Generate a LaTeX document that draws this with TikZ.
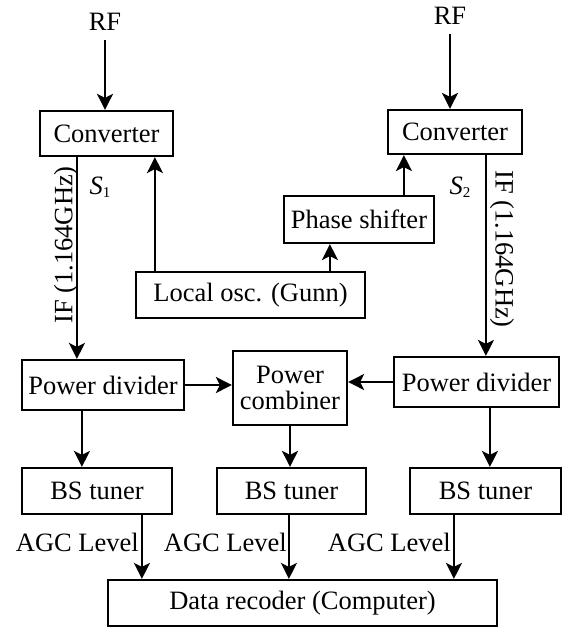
\documentclass[tikz,border=0pt]{standalone}
\usepackage{fontspec}
\setmainfont{Liberation Serif}
\usetikzlibrary{arrows.meta}
\begin{document}
\begin{tikzpicture}[x=1pt,y=-1pt,
  every node/.style={font=\fontsize{26.5}{29}\selectfont},
  box/.style={draw,line width=2.2pt,inner sep=0pt,align=center},
  arr/.style={line width=2.2pt,-{Stealth[length=16pt,width=16pt,inset=4pt]}},
  lbl/.style={inner sep=0pt}]
\useasboundingbox (0,0) rectangle (570,628);
% boxes
\node[box,minimum width=133pt,minimum height=45pt] (conv1) at (106.5,133.5) {Converter};
\node[box,minimum width=134pt,minimum height=44pt] (conv2) at (455,132) {Converter};
\node[box,minimum width=150pt,minimum height=47pt] (phase) at (359,219.5) {Phase shifter};
\node[box,minimum width=229pt,minimum height=46pt] (osc) at (250.5,295) {Local osc. (Gunn)};
\node[box,minimum width=162pt,minimum height=50pt] (pd1) at (103,385) {Power divider};
\node[box,minimum width=114pt,minimum height=74pt] (comb) at (290,388) {Power\\[-3pt]combiner};
\node[box,minimum width=165pt,minimum height=50pt] (pd2) at (476.5,382) {Power divider};
\node[box,minimum width=150pt,minimum height=46pt] (bs1) at (97,491) {BS tuner};
\node[box,minimum width=149pt,minimum height=46pt] (bs2) at (291.5,491) {BS tuner};
\node[box,minimum width=151pt,minimum height=46pt] (bs3) at (485.5,491) {BS tuner};
\node[box,minimum width=389pt,minimum height=46pt] (data) at (302.5,603) {Data recoder (Computer)};
% RF inputs
\node[lbl] (rf1) at (105,22) {RF};
\node[lbl] (rf2) at (450,16) {RF};
\draw[arr] ([yshift=-9pt]rf1.south) -- (rf1.south |- conv1.north);
\draw[arr] ([yshift=-9pt]rf2.south) -- (rf2.south |- conv2.north);
% IF lines
\draw[arr] ([xshift=38pt]conv1.south west) -- ([xshift=38pt]conv1.south west |- pd1.north);
\draw[arr] ([xshift=99pt]conv2.south west) -- ([xshift=99pt]conv2.south west |- pd2.north);
\node[lbl,rotate=90] (if1) at (66,245) {IF (1.164GHz)};
\node[lbl,rotate=-90] (if2) at (502,249) {IF (1.164GHz)};
\node[lbl] (s1) at (100,187) {\textit{S}\raisebox{-3pt}{\fontsize{15}{15}\selectfont 1}};
\node[lbl] (s2) at (460,187) {\textit{S}\raisebox{-3pt}{\fontsize{15}{15}\selectfont 2}};
% LO
\draw[arr] ([xshift=20pt]osc.north west) -- ([xshift=20pt]osc.north west |- conv1.south);
\draw[arr] ([xshift=195pt]osc.north west) -- ([xshift=195pt]osc.north west |- phase.south);
\draw[arr] ([xshift=121pt]phase.north west) -- ([xshift=121pt]phase.north west |- conv2.south);
% dividers to combiner
\draw[arr] (pd1.east) -- (pd1.east -| comb.west);
\draw[arr] (pd2.west) -- (pd2.west -| comb.east);
% to tuners
\draw[arr] ([xshift=61pt]pd1.south west) -- ([xshift=61pt]pd1.south west |- bs1.north);
\draw[arr] (comb.south) -- (comb.south |- bs2.north);
\draw[arr] ([xshift=97pt]pd2.south west) -- ([xshift=97pt]pd2.south west |- bs3.north);
% to recorder
\draw[arr] ([xshift=121pt]bs1.south west) -- ([xshift=121pt]bs1.south west |- data.north);
\draw[arr] ([xshift=73pt]bs2.south west) -- ([xshift=73pt]bs2.south west |- data.north);
\draw[arr] ([xshift=45pt]bs3.south west) -- ([xshift=45pt]bs3.south west |- data.north);
\node[lbl,anchor=east] (agc1) at (139,542) {AGC Level};
\node[lbl,anchor=east] (agc2) at (287,542) {AGC Level};
\node[lbl,anchor=east] (agc3) at (451,542) {AGC Level};
\end{tikzpicture}
\end{document}
